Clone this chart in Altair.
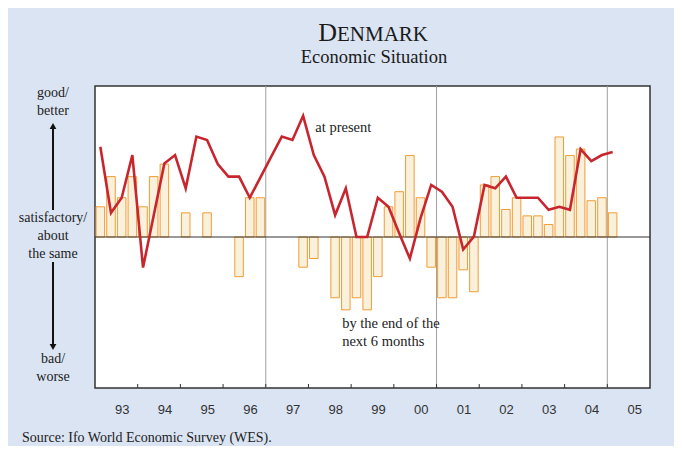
import altair as alt
import pandas as pd

# ---------------- data ----------------
start_year = 1993
# "at present" assessment, quarterly 1993Q1 .. 2005Q1 (scale 1=bad, 5=satisfactory, 9=good)
present = [7.39, 5.64, 6.04, 7.17, 4.19, 5.57, 6.95, 7.17,
           6.29, 7.66, 7.57, 6.93, 6.60, 6.60, 6.04, 6.58,
           7.12, 7.66, 7.57, 8.21, 7.17, 6.60, 5.58, 6.29,
           5.00, 5.00, 6.04, 5.80, 5.10, 4.43, 5.50, 6.38,
           6.20, 5.80, 4.67, 5.01, 6.38, 6.29, 6.60, 6.04,
           6.04, 6.04, 5.72, 5.80, 5.72, 7.33, 7.01, 7.17,
           7.25]
# "by the end of the next 6 months" expectation (None = no change)
expect = [5.80, 6.60, 6.04, 6.60, 5.80, 6.60, 6.93, None,
          5.64, None, 5.64, None, None, 3.95, 6.04, 6.04,
          None, None, None, 4.20, 4.43, None, 3.39, 3.07,
          3.39, 3.07, 3.95, 5.80, 6.20, 7.16, 6.04, 4.20,
          3.39, 3.39, 4.13, 3.55, 6.38, 6.60, 5.73, 6.04,
          5.56, 5.56, 5.33, 7.65, 7.16, 7.33, 5.96, 6.04,
          5.64]
year_labels = ["93", "94", "95", "96", "97", "98", "99", "00", "01", "02", "03", "04", "05"]
label_years = list(range(1993, 2006))
tick_years = list(range(1994, 2006))
divider_years = [1997, 2001, 2005]
baseline = 5.0
annotations = ["at present", "by the end of the\nnext 6 months"]
annot_x = [1998.16, 1998.79]
annot_y = [7.89, 2.70]

# ---------------- frames ----------------
qyear = [start_year + i // 4 for i in range(len(present))]
qnum = [i % 4 + 1 for i in range(len(present))]
line_df = pd.DataFrame({"year": qyear, "q": qnum, "v": present})
line_df["t"] = line_df["year"] + (line_df["q"] - 0.5) / 4

bar_df = pd.DataFrame({"year": qyear, "q": qnum, "v": expect}).dropna()
bar_df["t0"] = bar_df["year"] + (bar_df["q"] - 1) / 4 + 0.025
bar_df["t1"] = bar_df["year"] + bar_df["q"] / 4 - 0.025
bar_df["b"] = baseline

lab_df = pd.DataFrame({"yr": label_years, "lab": year_labels})
lab_df["c"] = lab_df["yr"] + 0.5
tick_df = pd.DataFrame({"yr": tick_years})
div_df = pd.DataFrame({"yr": divider_years})
zero_df = pd.DataFrame({"b": [baseline]})
ann_df = pd.DataFrame({"x": annot_x, "y": annot_y, "txt": annotations})

W, H = 555, 302
xs = alt.Scale(domain=[1993, 2006], nice=False, zero=False)
ys = alt.Scale(domain=[1, 9], nice=False, zero=False)
SERIF = "Liberation Serif"
SANS = "Liberation Sans"

one = pd.DataFrame({"a": [1]})

dividers = alt.Chart(div_df).mark_rule(color="#a0a0a0", strokeWidth=1).encode(
    x=alt.X("yr:Q", scale=xs, axis=None))

bars = alt.Chart(bar_df).mark_bar(fill="#faf1dc", stroke="#f29b33", strokeWidth=1).encode(
    x=alt.X("t0:Q", scale=xs, axis=None), x2="t1:Q",
    y=alt.Y("v:Q", scale=ys, axis=None), y2="b:Q")

zero = alt.Chart(zero_df).mark_rule(color="#333333", strokeWidth=1).encode(
    y=alt.Y("b:Q", scale=ys, axis=None))

line = alt.Chart(line_df).mark_line(color="#c8262f", strokeWidth=2.6).encode(
    x=alt.X("t:Q", scale=xs, axis=None),
    y=alt.Y("v:Q", scale=ys, axis=None))

ticks = alt.Chart(tick_df).mark_rule(color="#333333", strokeWidth=1).encode(
    x=alt.X("yr:Q", scale=xs, axis=None), y=alt.value(H), y2=alt.value(H - 4))

ylabels = alt.Chart(lab_df).mark_text(font=SANS, fontSize=13, color="#333333", baseline="middle", dx=6).encode(
    x=alt.X("c:Q", scale=xs, axis=None), y=alt.value(H + 22), text="lab:N")

ann = alt.Chart(ann_df).transform_calculate(
    lines="split(datum.txt, '\\n')"
).mark_text(font=SERIF, fontSize=14.5, align="left", baseline="middle", color="#222222", lineHeight=18).encode(
    x=alt.X("x:Q", scale=xs, axis=None), y=alt.Y("y:Q", scale=ys, axis=None), text="lines:N")


def txt(text, x, y, size=14, align="center", font=SERIF, baseline="middle", color="#222222"):
    return alt.Chart(one).mark_text(text=text, font=font, fontSize=size, align=align,
                                    baseline=baseline, color=color, lineHeight=18).encode(
        x=alt.value(x), y=alt.value(y))


ax = -42
arrow_up = alt.Chart(one).mark_rule(color="#111111", strokeWidth=2).encode(
    x=alt.value(ax), y=alt.value(42), y2=alt.value(124))
head_up = alt.Chart(one).mark_point(shape="triangle-up", filled=True, color="#111111", size=45, opacity=1).encode(
    x=alt.value(ax), y=alt.value(40))
arrow_dn = alt.Chart(one).mark_rule(color="#111111", strokeWidth=2).encode(
    x=alt.value(ax), y=alt.value(176), y2=alt.value(258))
head_dn = alt.Chart(one).mark_point(shape="triangle-down", filled=True, color="#111111", size=45, opacity=1).encode(
    x=alt.value(ax), y=alt.value(261))

left_texts = [
    txt(["good/", "better"], ax, 7),
    txt(["satisfactory/", "about", "the same"], ax, 132),
    txt(["bad/", "worse"], ax, 273),
]

title_d = txt("D", 242, -45, size=26, align="right", baseline="alphabetic", color="#1a1a1a")
title_rest = txt("ENMARK", 242, -45, size=21, align="left", baseline="alphabetic", color="#1a1a1a")
subtitle = txt("Economic Situation", 279, -23, size=18.5, baseline="alphabetic", color="#1a1a1a")
source = txt("Source: Ifo World Economic Survey (WES).", -73, 352, size=14, align="left", color="#222222")

chart = alt.layer(
    dividers, bars, zero, line, ticks, ylabels, ann,
    arrow_up, head_up, arrow_dn, head_dn, *left_texts, title_d, title_rest, subtitle, source
).properties(
    width=W, height=H,
    autosize=alt.AutoSizeParams(type="none"),
    padding={"left": 87, "top": 78, "right": 24, "bottom": 58},
    background="#dae4f3",
).configure_view(stroke="#333333", strokeWidth=1.5, fill="white")

chart.save("out.html", embed_options={"renderer": "svg", "actions": False})
